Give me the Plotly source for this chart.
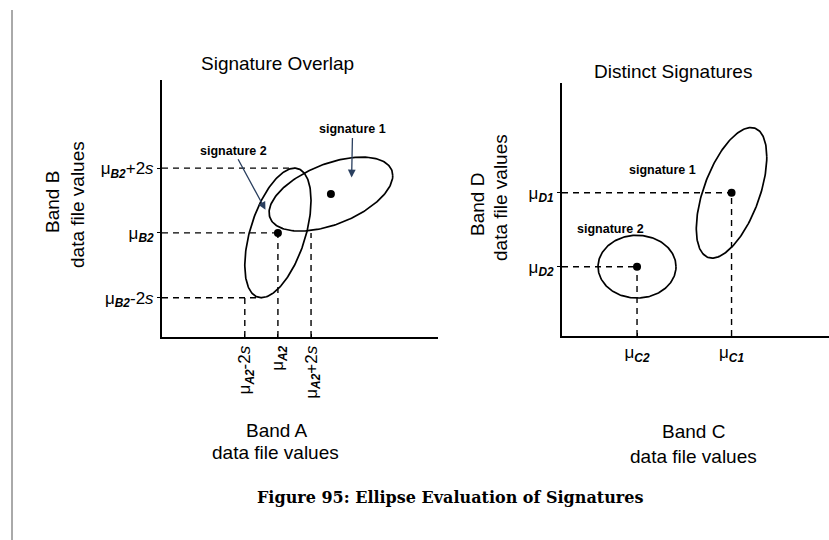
import numpy as np
import plotly.graph_objects as go

# --- data (axis units 0..100 on every axis) ---
# left panel: Band A (x) / Band B (y)
sig_names_left = ["signature 1", "signature 2"]
mean_a = [61.2, 42.0]
mean_b = [55.6, 40.5]
sd_a = [11.2, 6.0]
sd_b = [7.2, 12.6]
corr_ab = [0.5, 0.5]

# right panel: Band C (x) / Band D (y)
sig_names_right = ["signature 1", "signature 2"]
mean_c = [63.5, 28.1]
mean_d = [56.6, 27.4]
sd_c = [6.6, 7.3]
sd_d = [12.9, 6.2]
corr_cd = [0.55, 0.0]

FONT = "Liberation Sans, Arial, sans-serif"


def ellipse(mx, my, sx, sy, rho, k=2.0, n=200):
    t = np.linspace(0, 2 * np.pi, n)
    x = mx + k * sx * np.cos(t)
    y = my + k * sy * (rho * np.cos(t) + np.sqrt(1 - rho ** 2) * np.sin(t))
    return x, y


def px(x, y):
    # pixel position -> paper coords
    return x / 829, 1 - y / 540


fig = go.Figure()
line_style = dict(color="black", width=1.7)
dash_style = dict(color="black", width=1.4, dash="6px,5px")

# left panel ellipses and means
for i in range(2):
    ex, ey = ellipse(mean_a[i], mean_b[i], sd_a[i], sd_b[i], corr_ab[i])
    fig.add_trace(go.Scatter(x=ex, y=ey, mode="lines", line=line_style,
                             xaxis="x", yaxis="y", hoverinfo="skip"))
fig.add_trace(go.Scatter(x=mean_a, y=mean_b, mode="markers",
                         marker=dict(color="black", size=8),
                         xaxis="x", yaxis="y", hoverinfo="skip"))

# dashed guides for signature 2 (left)
ma, mb, sa, sb, r = mean_a[1], mean_b[1], sd_a[1], sd_b[1], corr_ab[1]
guides_left = [
    ([0, ma + 2 * sa * r], [mb + 2 * sb, mb + 2 * sb]),
    ([0, ma], [mb, mb]),
    ([0, ma - 2 * sa * r], [mb - 2 * sb, mb - 2 * sb]),
    ([ma - 2 * sa, ma - 2 * sa], [0, mb - 2 * sb]),
    ([ma, ma], [0, mb]),
    ([ma + 2 * sa, ma + 2 * sa], [0, mb]),
]
for gx, gy in guides_left:
    fig.add_trace(go.Scatter(x=gx, y=gy, mode="lines", line=dash_style,
                             xaxis="x", yaxis="y", hoverinfo="skip"))

# right panel ellipses and means
for i in range(2):
    ex, ey = ellipse(mean_c[i], mean_d[i], sd_c[i], sd_d[i], corr_cd[i])
    fig.add_trace(go.Scatter(x=ex, y=ey, mode="lines", line=line_style,
                             xaxis="x2", yaxis="y2", hoverinfo="skip"))
fig.add_trace(go.Scatter(x=mean_c, y=mean_d, mode="markers",
                         marker=dict(color="black", size=8),
                         xaxis="x2", yaxis="y2", hoverinfo="skip"))
for i in range(2):
    fig.add_trace(go.Scatter(x=[0, mean_c[i]], y=[mean_d[i], mean_d[i]], mode="lines",
                             line=dash_style, xaxis="x2", yaxis="y2", hoverinfo="skip"))
    fig.add_trace(go.Scatter(x=[mean_c[i], mean_c[i]], y=[0, mean_d[i]], mode="lines",
                             line=dash_style, xaxis="x2", yaxis="y2", hoverinfo="skip"))

tick_font = dict(family=FONT, size=17, color="black")
axis_common = dict(showgrid=False, zeroline=False, showline=True, linecolor="black",
                   linewidth=2, range=[0, 100], fixedrange=True, tickfont=tick_font,
                   ticklen=3, tickcolor="black", tickwidth=1)

sub = "<sub><i><b>%s</b></i></sub>"

fig.update_layout(
    width=829, height=540,
    margin=dict(l=0, r=0, t=0, b=0),
    paper_bgcolor="white", plot_bgcolor="white",
    showlegend=False,
    font=dict(family=FONT, color="black"),
    xaxis=dict(axis_common, domain=[162 / 829, 438 / 829], anchor="y",
               ticks="inside", tickangle=-90,
               tickvals=[ma - 2 * sa, ma, ma + 2 * sa],
               ticktext=["μ" + sub % "A2" + "-2<i>s</i>", "μ" + sub % "A2",
                         "μ" + sub % "A2" + "+2<i>s</i>"]),
    yaxis=dict(axis_common, domain=[(540 - 337) / 540, (540 - 80) / 540], anchor="x",
               ticks="outside",
               tickvals=[mb - 2 * sb, mb, mb + 2 * sb],
               ticktext=["μ" + sub % "B2" + "-2<i>s</i>", "μ" + sub % "B2",
                         "μ" + sub % "B2" + "+2<i>s</i>"]),
    xaxis2=dict(axis_common, domain=[562 / 829, 1.0], anchor="y2",
                ticks="inside",
                tickvals=[mean_c[1], mean_c[0]],
                ticktext=["μ" + sub % "C2", "μ" + sub % "C1"]),
    yaxis2=dict(axis_common, domain=[(540 - 336) / 540, (540 - 83) / 540], anchor="x2",
                ticks="outside",
                tickvals=[mean_d[1], mean_d[0]],
                ticktext=["μ" + sub % "D2", "μ" + sub % "D1"]),
)

ann = []
title_font = dict(family=FONT, size=19, color="black")
label_font = dict(family=FONT, size=19, color="black")
small_font = dict(family=FONT, size=12.5, color="black")


def text_at(text, x, y, font, angle=0):
    xp, yp = px(x, y)
    return dict(text=text, x=xp, y=yp, xref="paper", yref="paper", showarrow=False,
                xanchor="center", yanchor="middle", textangle=angle, font=font)


ann.append(text_at("Signature Overlap", 277, 63, title_font))
ann.append(text_at("Distinct Signatures", 673, 72, title_font))
ann.append(text_at("Band B", 53, 202, label_font, -90))
ann.append(text_at("data file values", 77, 205, label_font, -90))
ann.append(text_at("Band D", 477, 205, label_font, -90))
ann.append(text_at("data file values", 500, 197, label_font, -90))
ann.append(text_at("Band A", 277, 430, label_font))
ann.append(text_at("data file values", 275, 452, label_font))
ann.append(text_at("Band C", 693, 431, label_font))
ann.append(text_at("data file values", 693, 456, label_font))
ann.append(text_at("<b>Figure 95: Ellipse Evaluation of Signatures</b>", 450, 497,
                   dict(family="DejaVu Serif, serif", size=16, color="black")))

# signature labels
ann.append(dict(text="<b>" + sig_names_left[0] + "</b>", x=mean_a[0] + 7.5, y=mean_b[0] + 6.5,
                xref="x", yref="y", showarrow=True, arrowhead=2, arrowsize=1.2, arrowwidth=1.3,
                ax=1, ay=-48, font=small_font))
ann.append(dict(text="<b>" + sig_names_left[1] + "</b>", x=ma - 4.5, y=mb + 9,
                xref="x", yref="y", showarrow=True, arrowhead=2, arrowsize=1.2, arrowwidth=1.3,
                ax=-32, ay=-59, font=small_font))
ann.append(text_at("<b>" + sig_names_right[0] + "</b>", 662, 170, small_font))
ann.append(text_at("<b>" + sig_names_right[1] + "</b>", 610, 229, small_font))
fig.update_layout(annotations=ann)

# page margin rule on the left
fig.add_shape(type="line", xref="paper", yref="paper", x0=12 / 829, x1=12 / 829,
              y0=0, y1=1 - 10 / 540, line=dict(color="#555555", width=1))

fig.write_html("out.html", config={"displayModeBar": False},
               post_script="document.body.style.margin='0';")
